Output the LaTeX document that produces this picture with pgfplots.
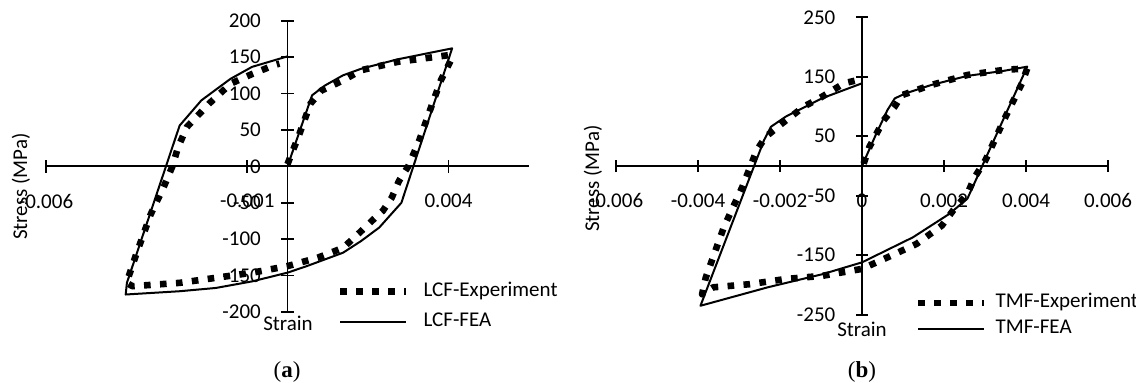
\documentclass[border=0pt]{standalone}
\usepackage{pgfplots}
\pgfplotsset{compat=1.18}
\usepackage{fontspec}
\setmainfont{Carlito}
\newfontfamily\capfont{Liberation Serif}
\pgfplotsset{
  myaxis/.style={
    scale only axis, axis lines=middle,
    axis line style={-, line width=0.85pt, black},
    every tick/.style={black, line width=0.85pt},
    tick align=center, major tick length=6.25pt,
    clip=false, scaled x ticks=false, scaled y ticks=false,
    hide obscured x ticks=false, hide obscured y ticks=false,
    /pgf/number format/assume math mode=true,
    every tick label/.append style={font=\fontsize{10.5pt}{12pt}\selectfont},
    xticklabel style={anchor=north, yshift=-7pt},
    yticklabel style={anchor=east, xshift=-6.5pt},
    anchor=south west,
    legend cell align=left,
    legend image code/.code={\draw[##1] (0pt,0pt) -- (33pt,0pt);},
  },
  expstyle/.style={black, line width=3.3pt, line cap=butt, line join=round, dash pattern=on 3.3pt off 4.7pt},
  feastyle/.style={black, line width=1pt, line join=round},
}
\begin{document}
\fontsize{10.5pt}{12.6pt}\selectfont
\begin{tikzpicture}
\useasboundingbox (0,0) rectangle (568pt,191.5pt);
% ---------------- panel (a)
\begin{axis}[myaxis,
  at={(23pt,35.5pt)}, width=241.5pt, height=145.65pt,
  xmin=-0.006, xmax=0.006, ymin=-200, ymax=200,
  xtick={-0.006,-0.001,0.004}, xticklabels={-0.006,-0.001,0.004},
  ytick={-200,-150,-100,-50,0,50,100,150,200},
  yticklabels={-200,-150,-100,-50,0,50,100,150,200},
  legend style={draw=none, fill=none, inner sep=0pt, outer sep=0pt,
    at={(0.6025,0.1013)}, anchor=north west, row sep=6.25pt, column sep=7pt,
    nodes={inner sep=0pt, text height=6.8pt, text depth=2.2pt, anchor=west},
    font=\fontsize{10.5pt}{12pt}\selectfont},
]
\addplot[expstyle] coordinates {
(0,3) (0.0003,45) (0.00057,86) (0.00084,104) (0.00138,118) (0.00183,132)
(0.00274,143.5) (0.00364,150) (0.00405,153) (0.00408,148)
(0.00381,118) (0.00354,77) (0.00327,35) (0.003,0) (0.00277,-20) (0.00259,-43)
(0.00237,-61) (0.00219,-70) (0.00183,-89) (0.00138,-112) (0.00075,-125.5)
(0,-137) (-0.00087,-146) (-0.00177,-153) (-0.00268,-160) (-0.00385,-164.6)
(-0.004,-160)
(-0.00376,-121) (-0.0034,-66) (-0.00308,-29) (-0.00286,0) (-0.00272,26)
(-0.0025,54) (-0.00195,86) (-0.00141,113.6) (-0.00087,127) (-0.00033,139) (-0.0002,141)
};
\addlegendentry{LCF-Experiment}
\addplot[feastyle] coordinates {
(0,0) (0.00061,97.5) (0.00093,111) (0.00138,125) (0.00183,134) (0.00274,147)
(0.00364,157) (0.00409,162) (0.00283,-50) (0.00228,-84) (0.00183,-102.5)
(0.00138,-118.6) (0.00048,-137) (0,-146) (-0.00088,-158) (-0.00178,-167)
(-0.00268,-171.5) (-0.00402,-176) (-0.00399,-160) (-0.00268,56)
(-0.00214,90.6) (-0.00142,120) (-0.00088,136.6) (0,151)
};
\addlegendentry{LCF-FEA}
\end{axis}
% ---------------- panel (b)
\begin{axis}[myaxis,
  at={(308pt,34.15pt)}, width=246pt, height=148.7pt,
  xmin=-0.006, xmax=0.006, ymin=-250, ymax=250,
  xtick={-0.006,-0.004,-0.002,0,0.002,0.004,0.006},
  xticklabels={-0.006,-0.004,-0.002,0,0.002,0.004,0.006},
  ytick={-250,-150,-50,50,150,250},
  yticklabels={-250,-150,-50,50,150,250},
  legend style={draw=none, fill=none, inner sep=0pt, outer sep=0pt,
    at={(0.6077,0.0696)}, anchor=north west, row sep=4pt, column sep=4pt,
    nodes={inner sep=0pt, text height=6.8pt, text depth=2.2pt, anchor=west},
    font=\fontsize{10.5pt}{12pt}\selectfont},
]
\addplot[expstyle] coordinates {
(0.00004,4) (0.00018,32) (0.00053,77) (0.0008,100) (0.00097,119) (0.00168,136)
(0.00257,153) (0.00346,161.6) (0.00403,164)
(0.0039,139) (0.00346,77) (0.00301,9.6) (0.00275,-18.6) (0.00257,-46.7)
(0.00222,-75) (0.00195,-100) (0.00133,-131) (0.0008,-148) (0,-173)
(-0.00097,-184.7) (-0.00186,-190) (-0.00275,-198.8) (-0.00363,-204) (-0.0039,-215.6)
(-0.00381,-187.5) (-0.00337,-103) (-0.00292,-35.5) (-0.00257,26) (-0.00235,49)
(-0.00195,71.5) (-0.00142,99.7) (-0.00097,116.6) (-0.00044,139) (-0.00009,144.7)
};
\addlegendentry{TMF-Experiment}
\addplot[feastyle] coordinates {
(0,0) (0.00035,54.6) (0.00062,94) (0.0008,113.7) (0.00106,122) (0.00168,136)
(0.00257,151.5) (0.00346,160) (0.00403,167) (0.00257,-55) (0.00213,-80.5)
(0.00124,-120) (0,-162) (-0.00097,-182) (-0.0023,-204) (-0.00394,-235)
(-0.00239,43.4) (-0.00222,66) (-0.00186,83) (-0.00097,114) (0,139)
};
\addlegendentry{TMF-FEA}
\end{axis}
% ---------------- axis titles and captions
\node[rotate=90] at (10.5pt,98.25pt) {Stress (MPa)};
\node[rotate=90] at (296.5pt,102.25pt) {Stress (MPa)};
\node at (144pt,30pt) {Strain};
\node at (431pt,27pt) {Strain};
\node at (143.5pt,5.5pt) {\capfont\fontsize{11.5pt}{13pt}\selectfont(\textbf{a})};
\node at (431pt,5.5pt) {\capfont\fontsize{11.5pt}{13pt}\selectfont(\textbf{b})};
\end{tikzpicture}
\end{document}
